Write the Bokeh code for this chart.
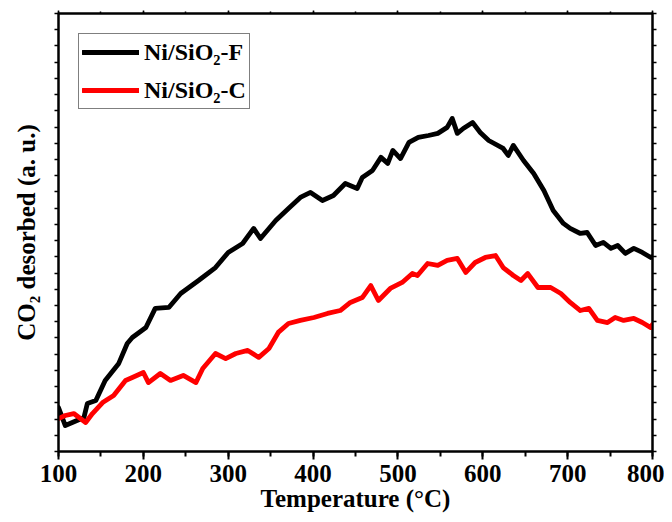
from bokeh.plotting import figure
from bokeh.models import (Range1d, LinearAxis, SingleIntervalTicker, Legend,
                          LegendItem, CustomJSTickFormatter)
from bokeh.embed import file_html
from bokeh.resources import INLINE

# Temperature (°C) and CO2 desorbed (a. u.)
temp_f = [100, 108, 130, 134, 144, 155, 171, 181, 187, 203,
          214, 230, 244, 265, 285, 300, 317, 330, 338, 356,
          371, 385, 397, 411, 424, 438, 452, 458, 470, 480,
          488, 494, 503, 513, 524, 536, 547, 558, 564, 570,
          577, 588, 597, 607, 624, 630, 636, 648, 660, 672,
          683, 695, 703, 715, 723, 733, 742, 751, 759, 768,
          778, 788, 798, 800]
co2_f = [2.71, 1.60, 2.10, 2.96, 3.14, 4.38, 5.43, 6.66, 7.03, 7.64,
         8.82, 8.88, 9.74, 10.54, 11.34, 12.27, 12.82, 13.75, 13.13, 14.24,
         14.98, 15.66, 15.97, 15.47, 15.78, 16.52, 16.21, 16.89, 17.32, 18.13,
         17.76, 18.56, 18.06, 19.05, 19.36, 19.48, 19.61, 19.98, 20.53, 19.61,
         19.91, 20.28, 19.67, 19.17, 18.68, 18.25, 18.87, 17.94, 17.14, 16.09,
         14.86, 14.06, 13.75, 13.44, 13.50, 12.70, 12.89, 12.52, 12.70, 12.21,
         12.52, 12.27, 11.96, 12.02]

temp_c = [100, 108, 118, 132, 140, 152, 165, 179, 187, 200,
          206, 220, 232, 247, 262, 270, 285, 297, 309, 323,
          336, 348, 359, 371, 385, 401, 417, 432, 444, 458,
          468, 477, 491, 505, 517, 523, 535, 547, 558, 570,
          580, 591, 603, 615, 624, 636, 645, 653, 665, 680,
          692, 703, 715, 725, 735, 747, 756, 766, 778, 788,
          798, 800]
co2_c = [2.03, 2.22, 2.34, 1.79, 2.34, 3.02, 3.45, 4.38, 4.56, 4.87,
         4.25, 4.81, 4.38, 4.69, 4.25, 5.12, 6.04, 5.73, 6.04, 6.23,
         5.80, 6.35, 7.34, 7.89, 8.08, 8.26, 8.51, 8.69, 9.19, 9.49,
         10.23, 9.31, 10.05, 10.42, 10.97, 10.85, 11.59, 11.47, 11.78, 11.90,
         11.04, 11.65, 11.96, 12.08, 11.34, 10.85, 10.54, 10.97, 10.11, 10.11,
         9.74, 9.19, 8.69, 8.82, 8.08, 7.95, 8.26, 8.08, 8.20, 7.95,
         7.64, 7.83]

series_names = ["Ni/SiO\u2082-F", "Ni/SiO\u2082-C"]
series_colors = ["black", "#ff0000"]

FONT = "Liberation Serif"

p = figure(width=664, height=514, output_backend="svg", toolbar_location=None,
           x_range=Range1d(100, 800), y_range=Range1d(0, 27),
           min_border_left=58, min_border_right=12, min_border_top=13,
           min_border_bottom=63, background_fill_color="white",
           border_fill_color="white")
p.xgrid.visible = False
p.ygrid.visible = False
p.outline_line_color = "black"
p.outline_line_width = 2

r1 = p.line(temp_f, co2_f, line_color=series_colors[0], line_width=4.8,
            line_join="round", line_cap="round")
r2 = p.line(temp_c, co2_c, line_color=series_colors[1], line_width=4.8,
            line_join="round", line_cap="round")

xt = SingleIntervalTicker(interval=100, num_minor_ticks=2)
yt = SingleIntervalTicker(interval=1, num_minor_ticks=0)
blank = CustomJSTickFormatter(code="return ''")

xa = p.xaxis[0]
xa.ticker = xt
xa.axis_label = "Temperature (\u00b0C)"
xa.axis_label_text_font = FONT
xa.axis_label_text_font_style = "bold"
xa.axis_label_text_font_size = "25px"
xa.axis_label_text_color = "black"
xa.axis_label_standoff = 0
xa.major_label_text_font = FONT
xa.major_label_text_font_style = "bold"
xa.major_label_text_font_size = "25px"
xa.major_label_text_color = "black"
xa.major_label_standoff = 5
xa.major_tick_out = 8
xa.major_tick_in = 0
xa.minor_tick_out = 5
xa.minor_tick_in = 0
xa.axis_line_width = 2
xa.major_tick_line_width = 2
xa.minor_tick_line_width = 2

ya = p.yaxis[0]
ya.ticker = yt
ya.formatter = blank
ya.axis_label = "CO\u2082 desorbed (a. u.)"
ya.axis_label_text_font = FONT
ya.axis_label_text_font_style = "bold"
ya.axis_label_text_font_size = "25px"
ya.axis_label_text_color = "black"
ya.axis_label_standoff = 15
ya.major_label_standoff = 0
ya.major_tick_out = 4
ya.major_tick_in = 0
ya.axis_line_width = 2
ya.major_tick_line_width = 1.5

ra = LinearAxis(ticker=yt, formatter=blank, major_tick_out=4,
                major_tick_in=0, axis_line_width=2, major_tick_line_width=1.5,
                major_label_standoff=0)
p.add_layout(ra, "right")

ta = LinearAxis(ticker=xt, formatter=blank, major_tick_out=3,
                major_tick_in=0, minor_tick_out=2, minor_tick_in=0,
                axis_line_width=2, major_tick_line_width=1.5,
                minor_tick_line_width=1.5, major_label_standoff=0)
p.add_layout(ta, "above")

legend = Legend(items=[LegendItem(label=series_names[0], renderers=[r1]),
                       LegendItem(label=series_names[1], renderers=[r2])],
                location="top_left", margin=20, padding=3, spacing=8,
                glyph_width=57, glyph_height=30, label_height=30,
                label_standoff=5, label_text_font=FONT,
                label_text_font_style="bold", label_text_font_size="24px",
                label_text_color="black",
                border_line_color="black", border_line_width=1,
                background_fill_color="white", background_fill_alpha=1)
p.add_layout(legend)

open("out.html", "w").write(file_html(p, INLINE))
